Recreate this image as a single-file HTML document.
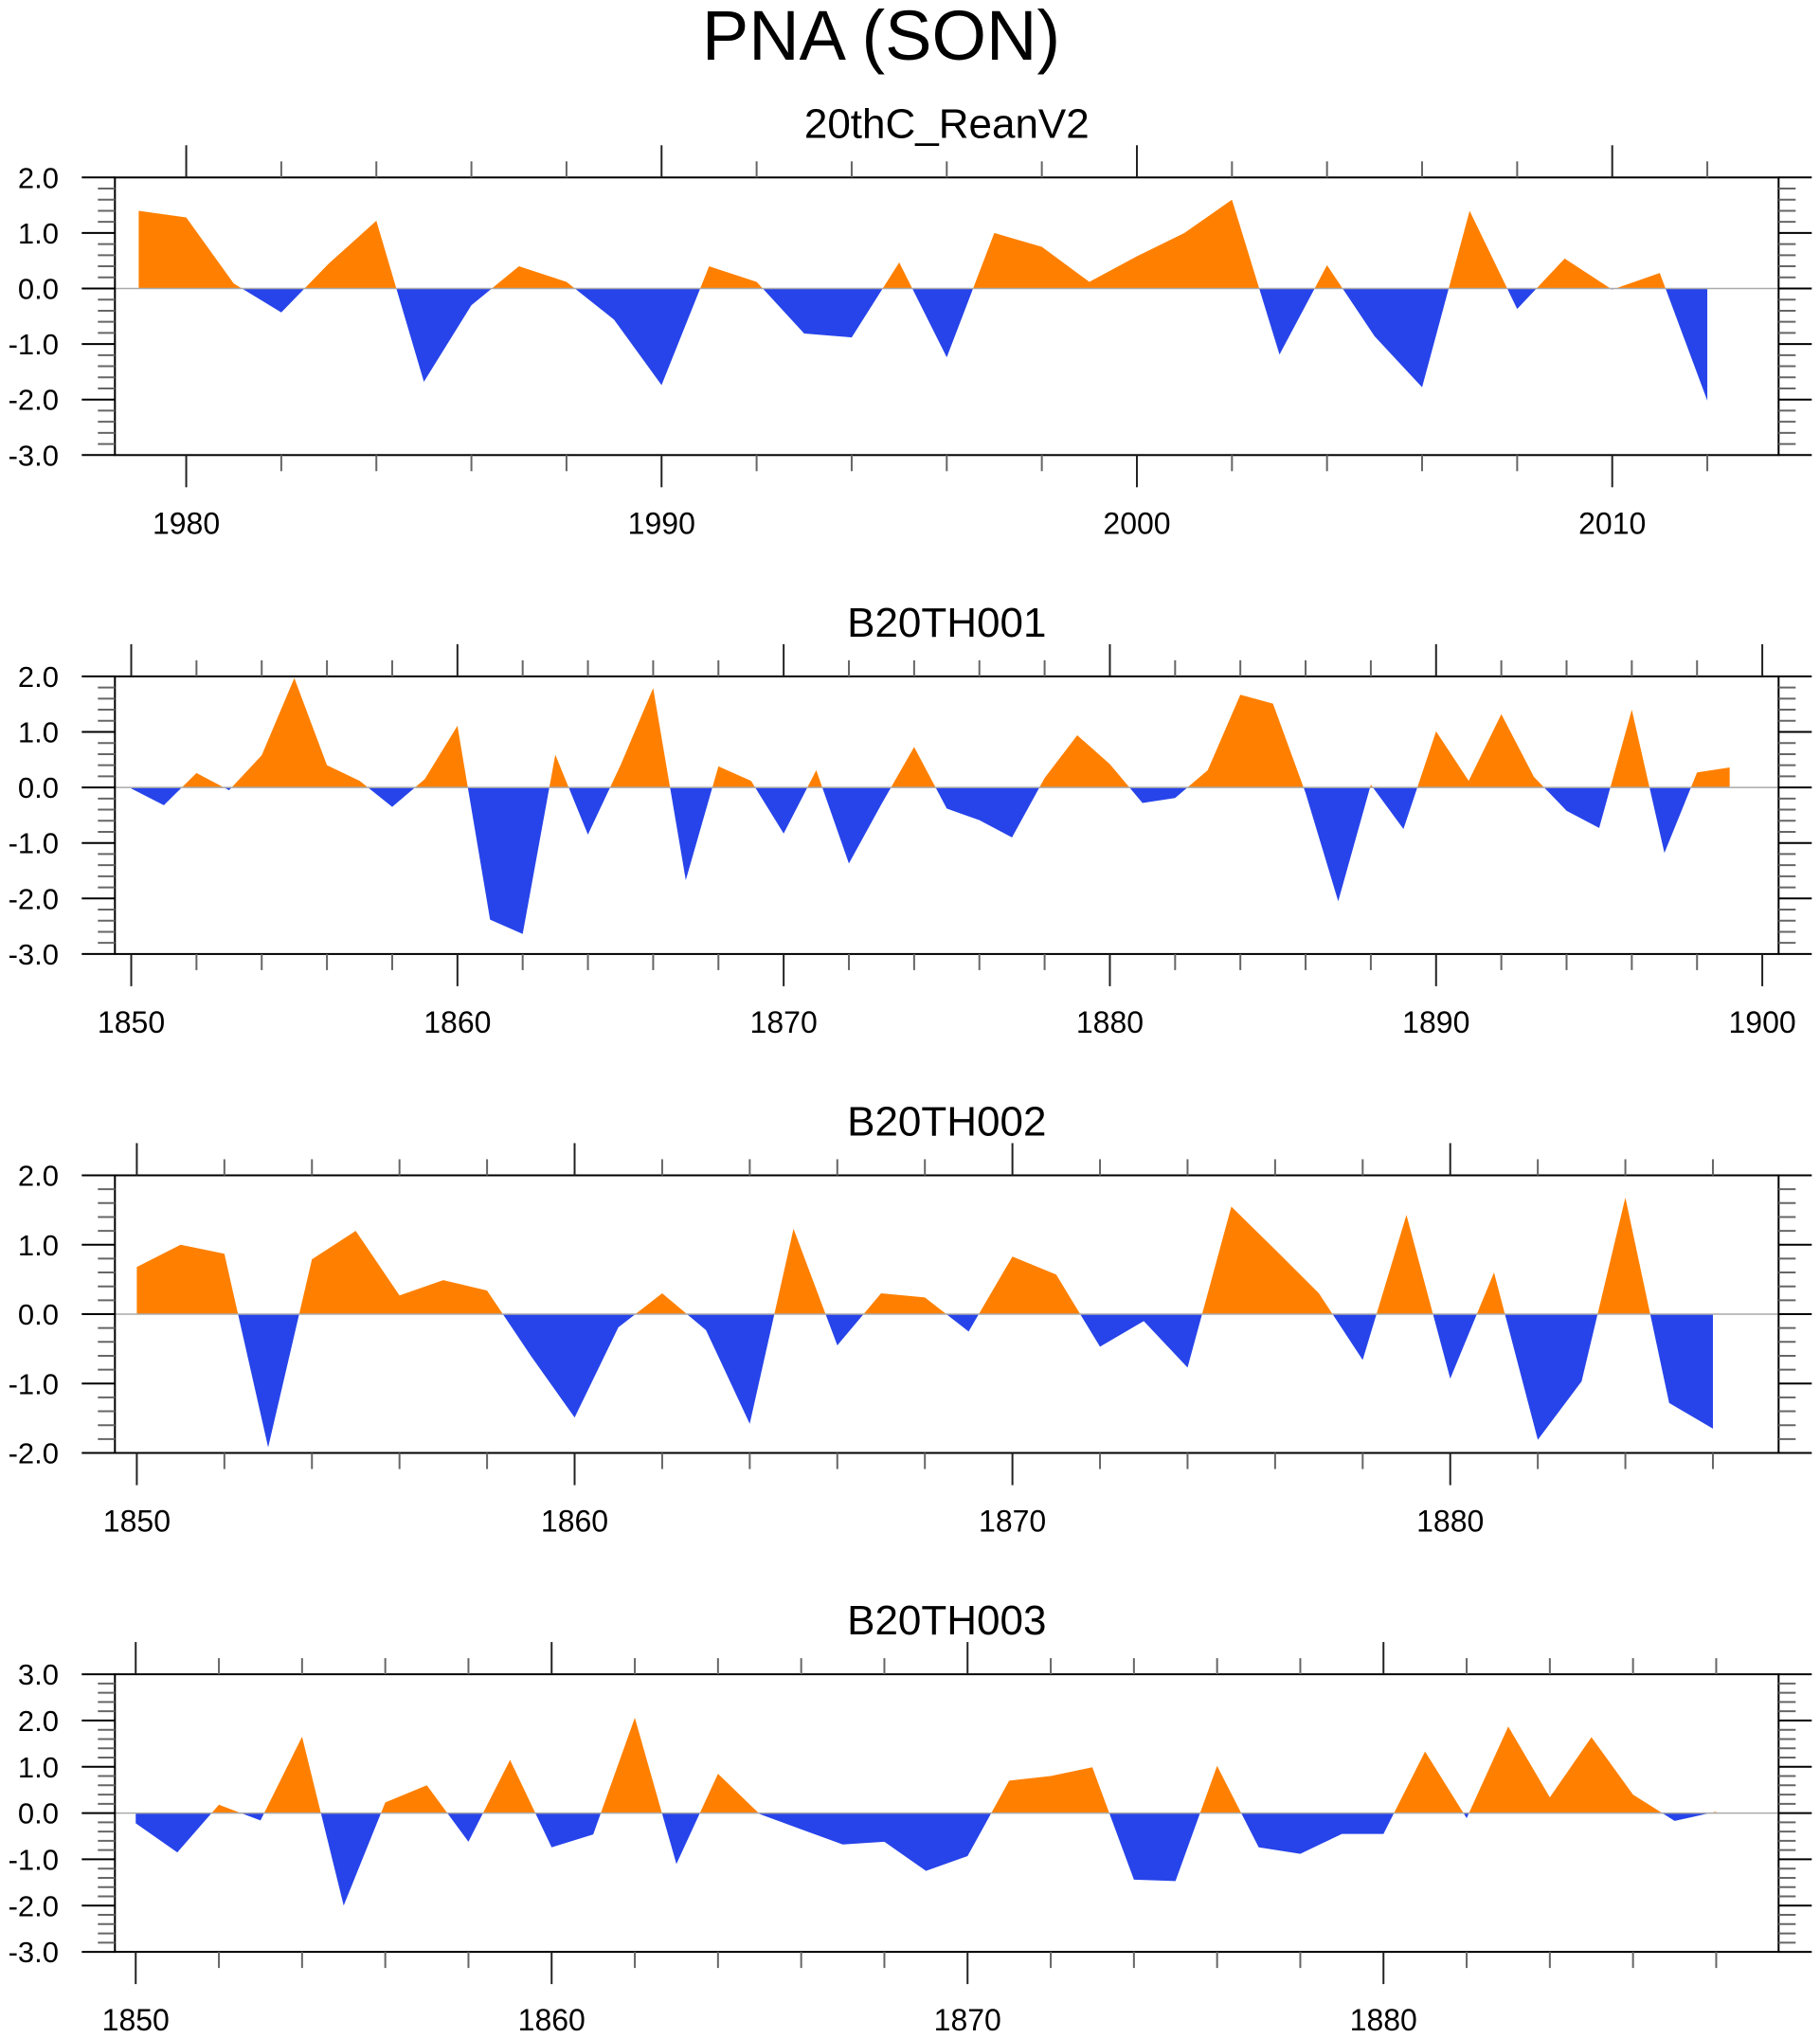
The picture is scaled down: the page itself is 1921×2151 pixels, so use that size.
<!DOCTYPE html>
<html><head><meta charset="utf-8"><style>
html,body{margin:0;padding:0;background:#fff;}
svg{display:block;font-family:"Liberation Sans",sans-serif;}
</style></head><body>
<svg id="chart" width="1921" height="2151" viewBox="0 0 1921 2151" xmlns="http://www.w3.org/2000/svg">
<text x="930" y="63" font-size="74" text-anchor="middle" fill="#000">PNA (SON)</text>
</svg>
<script>
const titles = ["20thC_ReanV2","B20TH001","B20TH002","B20TH003"];
const startYears = [1979,1850,1850,1850];
const xMins = [1978.5,1849.5,1849.5,1849.5];
const xMaxs = [2013.5,1900.5,1887.5,1889.5];
const yMins = [-3,-3,-2,-3];
const yMaxs = [2,2,2,3];
const xLabelStarts = [1980,1850,1850,1850];
const values0 = [1.40,1.28,0.09,-0.43,0.45,1.22,-1.68,-0.30,0.40,0.12,-0.56,-1.74,0.40,0.12,-0.81,-0.88,0.47,-1.24,1.00,0.75,0.12,0.58,1.00,1.60,-1.19,0.42,-0.86,-1.78,1.40,-0.37,0.54,-0.02,0.28,-2.02];
const values1 = [-0.02,-0.32,0.26,-0.05,0.58,1.97,0.40,0.12,-0.35,0.15,1.11,-2.38,-2.64,0.59,-0.85,0.40,1.79,-1.67,0.38,0.12,-0.83,0.31,-1.37,-0.30,0.73,-0.38,-0.59,-0.90,0.17,0.94,0.42,-0.28,-0.19,0.31,1.67,1.51,-0.10,-2.05,0.05,-0.75,1.01,0.12,1.32,0.19,-0.42,-0.73,1.40,-1.18,0.27,0.36];
const values2 = [0.68,1.00,0.87,-1.92,0.79,1.20,0.27,0.49,0.34,-0.60,-1.49,-0.19,0.30,-0.23,-1.58,1.23,-0.45,0.30,0.24,-0.25,0.83,0.57,-0.47,-0.10,-0.77,1.55,0.93,0.30,-0.66,1.43,-0.93,0.60,-1.81,-0.97,1.68,-1.28,-1.65];
const values3 = [-0.22,-0.85,0.18,-0.16,1.65,-2.00,0.23,0.60,-0.62,1.15,-0.74,-0.46,2.06,-1.10,0.85,-0.02,-0.35,-0.68,-0.62,-1.25,-0.93,0.70,0.80,0.99,-1.44,-1.47,1.02,-0.74,-0.88,-0.45,-0.45,1.33,-0.11,1.87,0.34,1.64,0.40,-0.17,0.03];
const allValues = [values0,values1,values2,values3];

const NS = "http://www.w3.org/2000/svg";
const svg = document.getElementById("chart");
const L = 121.3, R = 1877.3, H = 293, TOP0 = 187.3, STEP = 526.6;
function mk(tag, attrs, parent){const e=document.createElementNS(NS,tag);for(const k in attrs)e.setAttribute(k,attrs[k]);(parent||svg).appendChild(e);return e;}

for (let p=0;p<4;p++){
  const top = TOP0 + p*STEP, bot = top + H;
  const g = mk("g",{});
  
  
  const xs = yr => L + (yr - xMins[p])/(xMaxs[p]-xMins[p])*(R-L);
  const ys = v => bot - (v - yMins[p])/(yMaxs[p]-yMins[p])*H;
  const t = mk("text",{x:(L+R)/2,y:top-42,"font-size":44,"text-anchor":"middle",fill:"#000"},g);
  t.textContent = titles[p];
  
  
  // clip paths
  const defs = mk("defs",{},g);
  const z = ys(0);
  const cu = mk("clipPath",{id:"cu"+p},defs); mk("rect",{x:L,y:top,width:R-L,height:z-top},cu);
  const cd = mk("clipPath",{id:"cd"+p},defs); mk("rect",{x:L,y:z,width:R-L,height:bot-z},cd);
  const vals = allValues[p];
  let d = "M"+xs(startYears[p])+","+z;
  vals.forEach((v,i)=>{ d += " L"+xs(startYears[p]+i)+","+ys(v); });
  d += " L"+xs(startYears[p]+vals.length-1)+","+z+" Z";
  const pos = mk("path",{d:d,fill:"#ff8000","clip-path":"url(#cu"+p+")"},g);
  
  
  const neg = mk("path",{d:d,fill:"#2744ea","clip-path":"url(#cd"+p+")"},g);
  
  
  const zl = mk("line",{x1:L,x2:R,y1:z,y2:z,stroke:"#aaa","stroke-width":1.5},g);
  
  
  const box = mk("rect",{x:L,y:top,width:R-L,height:H,fill:"none",stroke:"#000","stroke-width":2},g);
  
  
  // y ticks
  for (let k=Math.round(yMins[p]*5);k<=Math.round(yMaxs[p]*5);k++){
    const v=k/5, y=ys(v), major=(k%5===0), len=major?35:18;
    mk("line",{x1:L-len,x2:L,y1:y,y2:y,stroke:major?"#000":"#666","stroke-width":2},g);
    mk("line",{x1:R,x2:R+len,y1:y,y2:y,stroke:major?"#000":"#666","stroke-width":2},g);
    if(major){
      const lb = mk("text",{x:62,y:y+11,"font-size":31,"text-anchor":"end",fill:"#000"},g);
      lb.textContent = v.toFixed(1);
      
      
    }
  }
  // x ticks
  for (let yr=Math.ceil(xMins[p]); yr<=xMaxs[p]; yr++){
    if (yr%2!==0) continue;
    const x=xs(yr), major=(yr%10===0), len=major?34:17;
    mk("line",{x1:x,x2:x,y1:top-len,y2:top,stroke:major?"#222":"#666","stroke-width":2},g);
    mk("line",{x1:x,x2:x,y1:bot,y2:bot+len,stroke:major?"#222":"#666","stroke-width":2},g);
    if(major){
      const lb = mk("text",{x:x,y:bot+83,"font-size":32,"text-anchor":"middle",fill:"#000"},g);
      lb.textContent = String(yr);
      
      
    }
  }
}
</script>
</body></html>
